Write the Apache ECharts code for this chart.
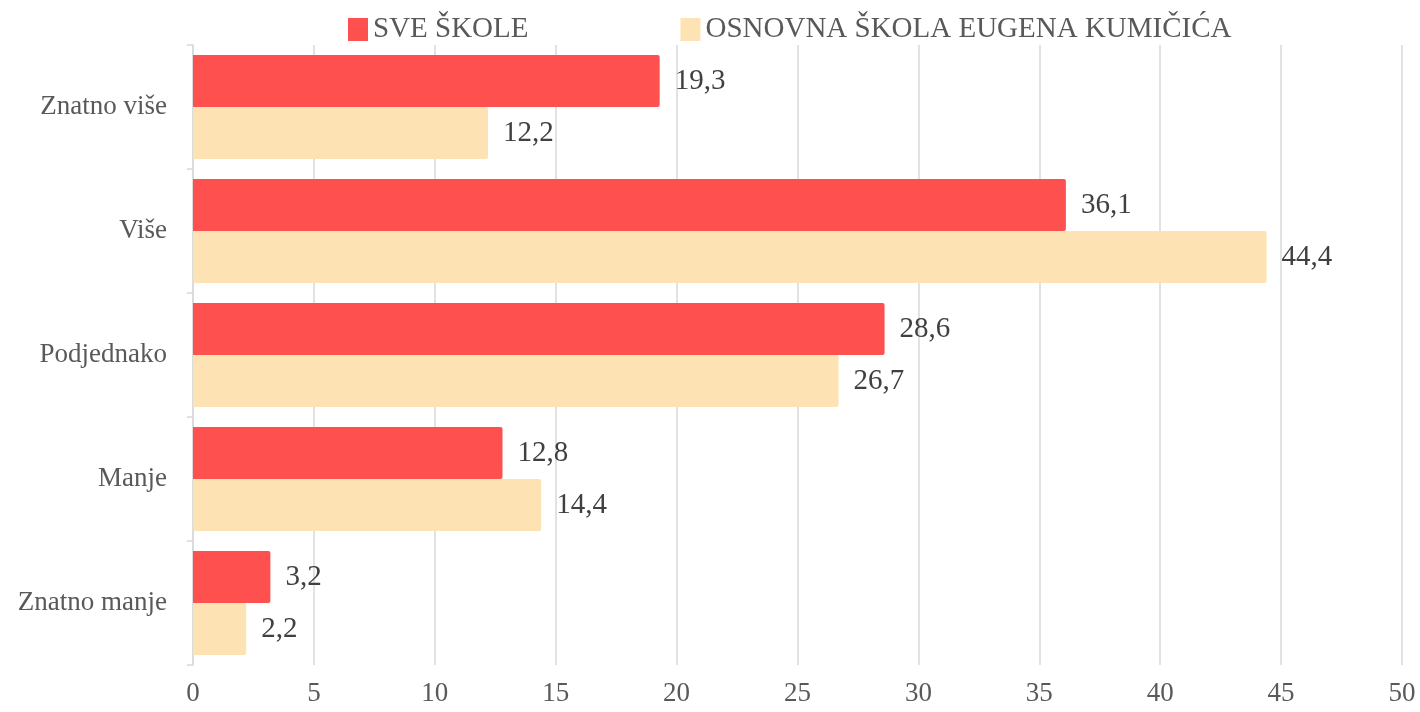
<!DOCTYPE html>
<html>
<head>
<meta charset="utf-8">
<script src="https://cdn.jsdelivr.net/npm/echarts@6/dist/echarts.min.js"></script>
<style>
  html, body { margin: 0; padding: 0; background: #fff; }
  #chart { width: 1420px; height: 712px; }
</style>
</head>
<body>
<div id="chart"></div>
<script>
  // podaci
  const categories = ['Znatno više', 'Više', 'Podjednako', 'Manje', 'Znatno manje'];
  const seriesNames = ['SVE ŠKOLE', 'OSNOVNA ŠKOLA EUGENA KUMIČIĆA'];
  const sveSkole = [19.3, 36.1, 28.6, 12.8, 3.2];
  const osKumicic = [12.2, 44.4, 26.7, 14.4, 2.2];
  const xTicks = [0, 5, 10, 15, 20, 25, 30, 35, 40, 45, 50];

  const font = '"Liberation Serif", "DejaVu Serif", serif';
  const myChart = echarts.init(document.getElementById('chart'));

  const fmt = (p) => String(p.value).replace('.', ',');

  let option = {
    animation: false,
    textStyle: { fontFamily: font },
    legend: {
      top: 10,
      left: 343,
      itemWidth: 20,
      itemHeight: 23,
      itemGap: 152,
      icon: 'rect',
      textStyle: { fontSize: 29, color: '#595959', fontFamily: font },
      data: seriesNames
    },
    grid: { left: 193, right: 18, top: 45, bottom: 47 },
    xAxis: {
      type: 'value',
      min: xTicks[0],
      max: xTicks[xTicks.length - 1],
      interval: 5,
      axisLine: { show: false },
      axisTick: { show: false },
      splitLine: { lineStyle: { color: '#D9D9D9', width: 1.5 } },
      axisLabel: { fontSize: 27, color: '#595959', margin: 15, fontFamily: font }
    },
    yAxis: {
      type: 'category',
      inverse: true,
      data: categories,
      axisLine: { show: true, lineStyle: { color: '#D9D9D9', width: 1.5 } },
      axisTick: { show: true, length: 6, lineStyle: { color: '#D9D9D9', width: 1.5 } },
      axisLabel: { fontSize: 27, color: '#595959', margin: 26, fontFamily: font }
    },
    series: [
      {
        name: seriesNames[0],
        type: 'bar',
        data: sveSkole,
        barGap: '0%',
        barCategoryGap: '16%',
        itemStyle: { color: '#FF5050', borderRadius: [0, 2, 2, 0] },
        label: { show: true, position: 'right', distance: 15, formatter: fmt,
                 fontSize: 29, color: '#404040', fontFamily: font }
      },
      {
        name: seriesNames[1],
        type: 'bar',
        data: osKumicic,
        barGap: '0%',
        barCategoryGap: '16%',
        itemStyle: { color: '#FDE3B3', borderRadius: [0, 2, 2, 0] },
        label: { show: true, position: 'right', distance: 15, formatter: fmt,
                 fontSize: 29, color: '#404040', fontFamily: font }
      }
    ]
  };
  option && myChart.setOption(option);
  window.onresize = myChart.resize;
</script>
</body>
</html>
